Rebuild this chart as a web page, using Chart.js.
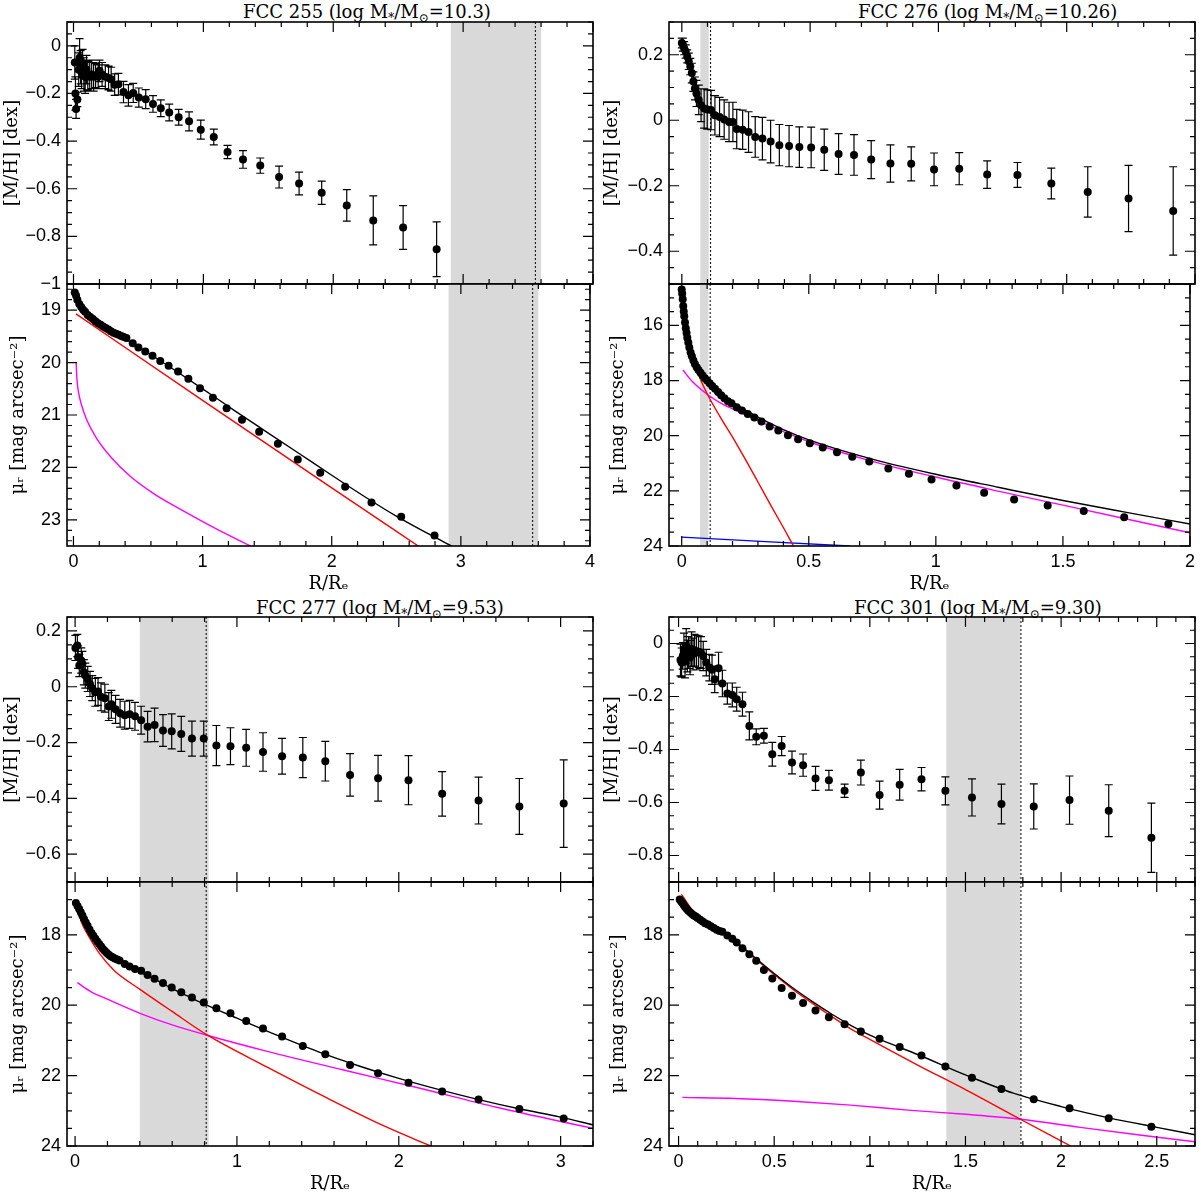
<!DOCTYPE html>
<html lang="en">
  <head>
    <meta charset="UTF-8" />
    <title>FCC metallicity and surface brightness profiles</title>
    <style>
      * {
        box-sizing: border-box;
      }
      html,
      body {
        margin: 0;
        padding: 0;
        background: #fff;
      }
      body {
        position: relative;
        width: 1200px;
        height: 1198px;
        overflow: hidden;
      }
      canvas {
        position: absolute;
      }
      .ttl {
        position: absolute;
        font-family: "DejaVu Serif", "Liberation Serif", serif;
        font-size: 18px;
        line-height: 20px;
        color: #000;
        white-space: nowrap;
      }
      .ttl sub {
        font-size: 12px;
        vertical-align: -4px;
        line-height: 0;
      }
    </style>
  </head>
  <body>
    <div class="ttl" style="left: 243px; top: 2px">FCC 255 (log M<sub>*</sub>/M<sub>⊙</sub>=10.3)</div>
    <div class="ttl" style="left: 858px; top: 2px">FCC 276 (log M<sub>*</sub>/M<sub>⊙</sub>=10.26)</div>
    <div class="ttl" style="left: 256px; top: 598px">FCC 277 (log M<sub>*</sub>/M<sub>⊙</sub>=9.53)</div>
    <div class="ttl" style="left: 854px; top: 598px">FCC 301 (log M<sub>*</sub>/M<sub>⊙</sub>=9.30)</div>

    <script src="https://cdn.jsdelivr.net/npm/chart.js"></script>
    <script>
      // ---------- FCC 255 ----------
      const fcc255Band = [2.905, 3.6];
      const fcc255Cut = 3.556;
      const fcc255MhR = [0.01, 0.015, 0.02, 0.03, 0.04, 0.047, 0.055, 0.062, 0.07, 0.08, 0.09, 0.1, 0.11, 0.125, 0.14, 0.155, 0.17, 0.19, 0.2, 0.22, 0.245, 0.27, 0.29,
        0.317, 0.346, 0.385, 0.423, 0.46, 0.503, 0.556, 0.612, 0.672, 0.737, 0.81, 0.89, 0.98, 1.08, 1.186, 1.305, 1.438, 1.583, 1.737, 1.911, 2.104, 2.308, 2.538, 2.796];
      const fcc255Mh = [-0.07, -0.2, -0.265, -0.225, -0.1, -0.05, -0.09, -0.11, -0.075, -0.12, -0.13, -0.1, -0.125, -0.13, -0.12, -0.13, -0.125, -0.13, -0.105, -0.12, -0.13, -0.135, -0.14,
        -0.163, -0.161, -0.194, -0.208, -0.198, -0.217, -0.224, -0.244, -0.262, -0.28, -0.3, -0.317, -0.352, -0.383, -0.446, -0.477, -0.503, -0.551, -0.578, -0.617, -0.67, -0.733, -0.763, -0.854];
      const fcc255MhErr = [0.07, 0.07, 0.04, 0.03, 0.07, 0.08, 0.07, 0.07, 0.06, 0.07, 0.07, 0.06, 0.06, 0.06, 0.06, 0.06, 0.05, 0.05, 0.045, 0.05, 0.05, 0.05, 0.05,
        0.045, 0.045, 0.045, 0.045, 0.04, 0.04, 0.04, 0.035, 0.035, 0.035, 0.033, 0.04, 0.04, 0.033, 0.028, 0.037, 0.032, 0.046, 0.048, 0.049, 0.066, 0.103, 0.092, 0.115];
      const fcc255MuR = [0.01, 0.02, 0.03, 0.045, 0.06, 0.075, 0.09, 0.11, 0.13, 0.15, 0.17, 0.19, 0.21, 0.23, 0.25, 0.27, 0.29, 0.31, 0.33, 0.35, 0.37, 0.39, 0.41,
        0.459, 0.503, 0.556, 0.612, 0.672, 0.737, 0.81, 0.89, 0.98, 1.08, 1.186, 1.305, 1.438, 1.583, 1.737, 1.911, 2.104, 2.308, 2.538, 2.796];
      const fcc255Mu = [18.66, 18.72, 18.8, 18.88, 18.94, 18.99, 19.03, 19.09, 19.13, 19.17, 19.21, 19.25, 19.28, 19.31, 19.34, 19.37, 19.4, 19.43, 19.45, 19.47, 19.49, 19.51, 19.53,
        19.63, 19.71, 19.79, 19.87, 19.97, 20.06, 20.17, 20.31, 20.49, 20.67, 20.87, 21.09, 21.32, 21.55, 21.85, 22.1, 22.37, 22.67, 22.94, 23.3];
      const fcc255Total = [[0.01, 18.62], [0.05, 18.85], [0.1, 19.0], [0.2, 19.22], [0.3, 19.4], [0.45, 19.62], [0.6, 19.85], [0.8, 20.17], [1.0, 20.5], [1.25, 20.92],
        [1.5, 21.33], [1.75, 21.74], [2.0, 22.15], [2.25, 22.55], [2.5, 22.93], [2.75, 23.27], [2.93, 23.5]];
      const fcc255Red = [[0.02, 19.07], [1.0, 20.72], [2.0, 22.39], [2.67, 23.5]];
      const fcc255Magenta = [[0.021, 20.0], [0.024, 20.2], [0.03, 20.4], [0.04, 20.58], [0.059, 20.78], [0.104, 21.1], [0.178, 21.44], [0.296, 21.82], [0.444, 22.18],
        [0.621, 22.5], [0.858, 22.84], [1.095, 23.16], [1.37, 23.5]];

      // ---------- FCC 276 ----------
      const fcc276Band = [0.072, 0.105];
      const fcc276Cut = 0.112;
      const fcc276MhR = [0, 0.004, 0.009, 0.015, 0.021, 0.027, 0.033, 0.039, 0.045, 0.051, 0.057, 0.066, 0.075, 0.087, 0.099, 0.114, 0.129, 0.147, 0.165, 0.184, 0.199,
        0.214, 0.237, 0.26, 0.286, 0.314, 0.346, 0.38, 0.418, 0.458, 0.504, 0.555, 0.611, 0.671, 0.738, 0.813, 0.894, 0.983, 1.081, 1.19, 1.308, 1.44, 1.582, 1.741, 1.915];
      const fcc276Mh = [0.236, 0.231, 0.22, 0.21, 0.195, 0.18, 0.164, 0.144, 0.118, 0.097, 0.082, 0.062, 0.046, 0.036, 0.033, 0.031, 0.015, 0.01, 0.002, -0.005, -0.005,
        -0.027, -0.029, -0.036, -0.051, -0.056, -0.065, -0.076, -0.079, -0.082, -0.083, -0.09, -0.103, -0.106, -0.12, -0.132, -0.133, -0.15, -0.148, -0.166, -0.167, -0.193, -0.219, -0.239, -0.277];
      const fcc276MhErr = [0.015, 0.02, 0.02, 0.02, 0.02, 0.025, 0.025, 0.03, 0.03, 0.035, 0.04, 0.045, 0.05, 0.06, 0.06, 0.06, 0.06, 0.06, 0.06, 0.06, 0.06,
        0.06, 0.06, 0.062, 0.062, 0.065, 0.065, 0.063, 0.063, 0.062, 0.062, 0.063, 0.062, 0.062, 0.058, 0.057, 0.052, 0.05, 0.049, 0.042, 0.038, 0.047, 0.077, 0.101, 0.135];
      const fcc276MuR = [0, 0.002, 0.004, 0.006, 0.008, 0.01, 0.013, 0.016, 0.019, 0.022, 0.026, 0.03, 0.035, 0.04, 0.046, 0.052, 0.059, 0.066, 0.074, 0.082, 0.091,
        0.1, 0.11, 0.12, 0.131, 0.143, 0.155, 0.168, 0.182,
        0.196, 0.216, 0.237, 0.26, 0.286, 0.314, 0.346, 0.38, 0.418, 0.458, 0.504, 0.555, 0.611, 0.671, 0.738, 0.813, 0.894, 0.983, 1.081, 1.19, 1.308, 1.44, 1.582, 1.741, 1.915];
      const fcc276Mu = [14.7, 14.85, 15.05, 15.3, 15.5, 15.67, 15.9, 16.1, 16.28, 16.45, 16.62, 16.8, 16.98, 17.12, 17.27, 17.4, 17.52, 17.62, 17.72, 17.82, 17.92,
        18.0, 18.1, 18.2, 18.3, 18.42, 18.53, 18.64, 18.75,
        18.82, 18.97, 19.09, 19.21, 19.34, 19.49, 19.67, 19.81, 19.98, 20.13, 20.27, 20.43, 20.6, 20.76, 20.94, 21.19, 21.38, 21.59, 21.81, 22.07, 22.31, 22.53, 22.73, 22.96, 23.2];
      const fcc276Total = [[0, 14.7], [0.005, 15.2], [0.01, 15.65], [0.02, 16.35], [0.03, 16.8], [0.05, 17.3], [0.075, 17.7], [0.1, 18.0], [0.15, 18.45], [0.2, 18.78],
        [0.3, 19.33], [0.4, 19.78], [0.5, 20.15], [0.75, 20.85], [1.0, 21.4], [1.25, 21.88], [1.5, 22.35], [1.75, 22.78], [2.0, 23.2]];
      const fcc276Red = [[0, 14.68], [0.01, 15.66], [0.025, 16.62], [0.05, 17.36], [0.075, 17.98], [0.1, 18.48], [0.15, 19.3], [0.2, 20.05], [0.25, 20.85],
        [0.3, 21.68], [0.35, 22.52], [0.4, 23.33], [0.44, 24.0]];
      const fcc276Magenta = [[0.005, 17.62], [0.04, 18.02], [0.1, 18.5], [0.15, 18.8], [0.2, 19.03], [0.3, 19.45], [0.4, 19.85], [0.5, 20.22], [0.75, 20.93],
        [1.0, 21.5], [1.25, 22.02], [1.5, 22.52], [1.75, 23.02], [2.0, 23.52]];
      const fcc276Blue = [[0, 23.68], [0.66, 24.0]];

      // ---------- FCC 277 ----------
      const fcc277Band = [0.4, 0.825];
      const fcc277Cut = 0.81;
      const fcc277MhR = [0.002, 0.014, 0.019, 0.026, 0.038, 0.045, 0.054, 0.063, 0.078, 0.092, 0.106, 0.125, 0.142, 0.16, 0.184, 0.208, 0.224,
        0.25, 0.278, 0.307, 0.337, 0.37, 0.408, 0.448, 0.491, 0.543, 0.597, 0.656, 0.722, 0.795, 0.873, 0.96, 1.057, 1.161, 1.279, 1.407, 1.546, 1.699, 1.872, 2.06, 2.268, 2.493, 2.745, 3.019];
      const fcc277Mh = [0.139, 0.148, 0.106, 0.076, 0.094, 0.082, 0.052, 0.04, 0.028, 0.01, -0.005, -0.02, -0.017, -0.036, -0.041, -0.071, -0.063,
        -0.081, -0.095, -0.102, -0.099, -0.106, -0.12, -0.143, -0.137, -0.157, -0.16, -0.169, -0.186, -0.186, -0.211, -0.213, -0.219, -0.234, -0.249, -0.254, -0.267, -0.316, -0.328, -0.335, -0.384, -0.408, -0.429, -0.419];
      const fcc277MhErr = [0.045, 0.04, 0.04, 0.04, 0.045, 0.045, 0.045, 0.045, 0.045, 0.045, 0.045, 0.05, 0.05, 0.05, 0.05, 0.05, 0.05,
        0.05, 0.05, 0.05, 0.05, 0.05, 0.05, 0.055, 0.06, 0.057, 0.063, 0.063, 0.063, 0.063, 0.072, 0.066, 0.066, 0.069, 0.064, 0.072, 0.071, 0.076, 0.082, 0.088, 0.08, 0.084, 0.1, 0.157];
      const fcc277MuR = [0.005, 0.015, 0.025, 0.035, 0.045, 0.055, 0.066, 0.077, 0.089, 0.101, 0.113, 0.125, 0.137, 0.149, 0.161, 0.172, 0.184, 0.196, 0.208, 0.22, 0.232, 0.245, 0.26, 0.275,
        0.307, 0.337, 0.37, 0.408, 0.448, 0.491, 0.543, 0.597, 0.656, 0.722, 0.795, 0.873, 0.96, 1.057, 1.161, 1.279, 1.407, 1.546, 1.699, 1.872, 2.06, 2.268, 2.493, 2.745, 3.019];
      const fcc277Mu = [17.1, 17.18, 17.27, 17.36, 17.45, 17.55, 17.65, 17.74, 17.85, 17.95, 18.03, 18.11, 18.19, 18.26, 18.33, 18.4, 18.46, 18.52, 18.57, 18.61, 18.64, 18.67, 18.7, 18.73,
        18.83, 18.9, 18.97, 19.02, 19.14, 19.25, 19.37, 19.5, 19.63, 19.78, 19.92, 20.09, 20.23, 20.45, 20.66, 20.89, 21.16, 21.39, 21.7, 21.93, 22.2, 22.45, 22.68, 22.95, 23.22];
      const fcc277Total = [[0.005, 17.15], [0.05, 17.55], [0.1, 17.95], [0.2, 18.5], [0.3, 18.82], [0.4, 19.06], [0.5, 19.28], [0.6, 19.53], [0.7, 19.75], [0.8, 19.97],
        [1.0, 20.37], [1.25, 20.86], [1.5, 21.32], [1.75, 21.72], [2.0, 22.08], [2.25, 22.4], [2.5, 22.69], [2.75, 22.95], [3.0, 23.18], [3.2, 23.4]];
      const fcc277Red = [[0.007, 17.19], [0.042, 17.67], [0.09, 18.09], [0.149, 18.52], [0.243, 19.02], [0.401, 19.55], [0.597, 20.17], [0.821, 20.86],
        [1.187, 21.76], [1.541, 22.6], [1.895, 23.4], [2.197, 24.0]];
      const fcc277Magenta = [[0.014, 19.36], [0.1, 19.62], [0.2, 19.83], [0.401, 20.23], [0.6, 20.56], [0.821, 20.86], [1.187, 21.31], [1.659, 21.84],
        [2.131, 22.36], [2.603, 22.9], [3.2, 23.5]];

      // ---------- FCC 301 ----------
      const fcc301Band = [1.4, 1.787];
      const fcc301Cut = 1.79;
      const fcc301MhR = [0.01, 0.016, 0.022, 0.028, 0.034, 0.04, 0.046, 0.052, 0.06, 0.068, 0.076, 0.084, 0.094, 0.105, 0.117, 0.129, 0.145, 0.161, 0.175, 0.189,
        0.209, 0.229, 0.255, 0.281, 0.304, 0.334, 0.37, 0.406, 0.446, 0.49, 0.539, 0.593, 0.651, 0.716, 0.786, 0.868, 0.953, 1.051, 1.156, 1.27,
        1.395, 1.534, 1.688, 1.857, 2.044, 2.249, 2.472];
      const fcc301Mh = [-0.062, -0.072, -0.047, -0.021, -0.065, -0.009, -0.047, -0.034, -0.053, -0.021, -0.04, -0.025, -0.034, -0.031, -0.034, -0.047, -0.072, -0.091, -0.099, -0.135,
        -0.093, -0.151, -0.189, -0.194, -0.21, -0.229, -0.311, -0.352, -0.348, -0.418, -0.387, -0.449, -0.459, -0.509, -0.516, -0.556, -0.487, -0.572, -0.533, -0.512,
        -0.556, -0.581, -0.606, -0.615, -0.591, -0.631, -0.733];
      const fcc301MhErr = [0.06, 0.055, 0.05, 0.06, 0.065, 0.065, 0.06, 0.06, 0.065, 0.065, 0.06, 0.06, 0.065, 0.06, 0.06, 0.055, 0.05, 0.05, 0.055, 0.05,
        0.06, 0.05, 0.04, 0.045, 0.045, 0.045, 0.053, 0.03, 0.028, 0.045, 0.036, 0.043, 0.042, 0.045, 0.037, 0.025, 0.047, 0.053, 0.058, 0.044,
        0.053, 0.07, 0.075, 0.085, 0.091, 0.098, 0.131];
      const fcc301MuR = [0.006, 0.013, 0.02, 0.027, 0.034, 0.042, 0.05, 0.06, 0.07, 0.08, 0.09, 0.1, 0.113, 0.126, 0.139, 0.154, 0.169, 0.184, 0.199, 0.214,
        0.229, 0.255, 0.281, 0.304, 0.334, 0.37, 0.406, 0.446, 0.49, 0.539, 0.593, 0.651, 0.716, 0.786, 0.868, 0.953, 1.051, 1.156, 1.27, 1.395, 1.534, 1.688, 1.857, 2.044, 2.249, 2.472];
      const fcc301Mu = [17.0, 17.05, 17.1, 17.15, 17.21, 17.26, 17.31, 17.36, 17.41, 17.45, 17.48, 17.52, 17.57, 17.62, 17.67, 17.71, 17.76, 17.81, 17.86, 17.89,
        17.91, 18.02, 18.11, 18.22, 18.38, 18.55, 18.74, 19.0, 19.24, 19.51, 19.73, 19.94, 20.15, 20.34, 20.54, 20.75, 20.95, 21.19, 21.43, 21.74, 22.06, 22.38, 22.67, 22.93, 23.21, 23.45];
      const fcc301Total = [[0.01, 16.95], [0.1, 17.5], [0.2, 17.85], [0.3, 18.2], [0.4, 18.65], [0.5, 19.1], [0.6, 19.52], [0.7, 19.9], [0.8, 20.25], [0.9, 20.57],
        [1.0, 20.85], [1.1, 21.08], [1.25, 21.4], [1.5, 21.98], [1.75, 22.5], [2.0, 22.88], [2.25, 23.2], [2.5, 23.47], [2.7, 23.68]];
      const fcc301Red = [[0.015, 16.85], [0.1, 17.5], [0.2, 17.86], [0.3, 18.22], [0.4, 18.68], [0.5, 19.13], [0.6, 19.56], [0.7, 19.95], [0.8, 20.32], [0.9, 20.67],
        [1.0, 20.97], [1.25, 21.7], [1.5, 22.4], [1.787, 23.24], [2.05, 24.0]];
      const fcc301Magenta = [[0.02, 22.62], [0.3, 22.65], [0.6, 22.73], [0.9, 22.84], [1.2, 22.98], [1.5, 23.1], [1.787, 23.24], [2.1, 23.47], [2.4, 23.68], [2.7, 23.88]];

      // ---------- layout ----------
      const COLS = [
        { x: 0, left: 67, right: 593 },
        { x: 600, left: 669, right: 1195 },
      ];
      const ROWS = [
        { top: 22, mid: 284, bottom: 546 },
        { top: 617, mid: 882, bottom: 1146 },
      ];
      const RED = "#ff0000";
      const MAGENTA = "#ff00ff";
      const BLUE = "#0000ff";

      const panels = [
        {
          col: 0, row: 0, xMin: -0.05, xMax: 4, xTicks: [0, 1, 2, 3, 4], xMajor: 1, xMinor: 0.2,
          band: fcc255Band, cut: fcc255Cut,
          mh: { min: -1, max: 0.1, ticks: [0, -0.2, -0.4, -0.6, -0.8, -1], major: 0.2, minor: 0.05, r: fcc255MhR, v: fcc255Mh, e: fcc255MhErr },
          mu: { min: 18.5, max: 23.5, ticks: [19, 20, 21, 22, 23], major: 1, minor: 0.2, r: fcc255MuR, v: fcc255Mu,
            curves: [[fcc255Total, "#000"], [fcc255Red, RED], [fcc255Magenta, MAGENTA]] },
        },
        {
          col: 1, row: 0, xMin: -0.05, xMax: 2, xTicks: [0, 0.5, 1, 1.5, 2], xMajor: 0.5, xMinor: 0.1,
          band: fcc276Band, cut: fcc276Cut,
          mh: { min: -0.5, max: 0.3, ticks: [0.2, 0, -0.2, -0.4], major: 0.2, minor: 0.05, r: fcc276MhR, v: fcc276Mh, e: fcc276MhErr },
          mu: { min: 14.5, max: 24, ticks: [16, 18, 20, 22, 24], major: 2, minor: 0.5, r: fcc276MuR, v: fcc276Mu,
            curves: [[fcc276Total, "#000"], [fcc276Red, RED], [fcc276Magenta, MAGENTA], [fcc276Blue, BLUE]] },
        },
        {
          col: 0, row: 1, xMin: -0.05, xMax: 3.2, xTicks: [0, 1, 2, 3], xMajor: 1, xMinor: 0.2,
          band: fcc277Band, cut: fcc277Cut,
          mh: { min: -0.7, max: 0.25, ticks: [0.2, 0, -0.2, -0.4, -0.6], major: 0.2, minor: 0.05, r: fcc277MhR, v: fcc277Mh, e: fcc277MhErr },
          mu: { min: 16.5, max: 24, ticks: [18, 20, 22, 24], major: 2, minor: 0.5, r: fcc277MuR, v: fcc277Mu,
            curves: [[fcc277Total, "#000"], [fcc277Red, RED], [fcc277Magenta, MAGENTA]] },
        },
        {
          col: 1, row: 1, xMin: -0.05, xMax: 2.7, xTicks: [0, 0.5, 1, 1.5, 2, 2.5], xMajor: 0.5, xMinor: 0.1,
          band: fcc301Band, cut: fcc301Cut,
          mh: { min: -0.9, max: 0.1, ticks: [0, -0.2, -0.4, -0.6, -0.8], major: 0.2, minor: 0.05, r: fcc301MhR, v: fcc301Mh, e: fcc301MhErr },
          mu: { min: 16.5, max: 24, ticks: [18, 20, 22, 24], major: 2, minor: 0.5, r: fcc301MuR, v: fcc301Mu,
            curves: [[fcc301Total, "#000"], [fcc301Red, RED], [fcc301Magenta, MAGENTA]] },
        },
      ];

      const TICK_FONT = { family: "'Liberation Sans', Arial, sans-serif", size: 18 };
      const TITLE_FONT = { family: "'DejaVu Serif', 'Liberation Serif', serif", size: 18 };
      const PAD = 20;
      const XAXIS_H = 55;

      const fmt = (v) => String(Math.round(v * 100) / 100).replace("-", "\u2212");

      function steps(min, max, step) {
        const out = [];
        const k0 = Math.ceil(min / step - 1e-6);
        const k1 = Math.floor(max / step + 1e-6);
        for (let k = k0; k <= k1; k++) out.push(k * step);
        return out;
      }
      function onMajor(v, major) {
        const q = v / major;
        return Math.abs(q - Math.round(q)) < 1e-6;
      }

      // shaded range, dotted cut, error bars, frame and inward ticks
      const decor = {
        id: "decor",
        beforeDatasetsDraw(chart, args, o) {
          const { ctx, chartArea: a } = chart;
          const x = chart.scales.x, y = chart.scales.y;
          ctx.save();
          const x1 = x.getPixelForValue(o.band[0]);
          const x2 = x.getPixelForValue(o.band[1]);
          ctx.fillStyle = "#d9d9d9";
          ctx.fillRect(x1, a.top, x2 - x1, a.bottom - a.top);

          const xc = x.getPixelForValue(o.cut);
          ctx.strokeStyle = "#000";
          ctx.lineWidth = 1;
          ctx.setLineDash([2, 2]);
          ctx.beginPath();
          ctx.moveTo(xc, a.top);
          ctx.lineTo(xc, a.bottom);
          ctx.stroke();
          ctx.setLineDash([]);

          ctx.beginPath();
          ctx.rect(a.left, a.top, a.right - a.left, a.bottom - a.top);
          ctx.clip();
          ctx.lineWidth = 1.2;
          ctx.beginPath();
          chart.data.datasets.forEach((ds) => {
            if (!ds.errors) return;
            ds.data.forEach((p, i) => {
              const px = x.getPixelForValue(p.x);
              const yt = y.getPixelForValue(p.y + ds.errors[i]);
              const yb = y.getPixelForValue(p.y - ds.errors[i]);
              ctx.moveTo(px, yt);
              ctx.lineTo(px, yb);
              ctx.moveTo(px - 4, yt);
              ctx.lineTo(px + 4, yt);
              ctx.moveTo(px - 4, yb);
              ctx.lineTo(px + 4, yb);
            });
          });
          ctx.stroke();
          ctx.restore();
        },
        afterDatasetsDraw(chart, args, o) {
          const { ctx, chartArea: a } = chart;
          const x = chart.scales.x, y = chart.scales.y;
          ctx.save();
          ctx.strokeStyle = "#000";
          ctx.lineWidth = 1.2;
          ctx.beginPath();
          steps(x.min, x.max, o.xMinor).forEach((v) => {
            const len = onMajor(v, o.xMajor) ? 10 : 5;
            const px = x.getPixelForValue(v);
            ctx.moveTo(px, a.top);
            ctx.lineTo(px, a.top + len);
            ctx.moveTo(px, a.bottom);
            ctx.lineTo(px, a.bottom - len);
          });
          steps(y.min, y.max, o.yMinor).forEach((v) => {
            const len = onMajor(v, o.yMajor) ? 10 : 5;
            const py = y.getPixelForValue(v);
            ctx.moveTo(a.left, py);
            ctx.lineTo(a.left + len, py);
            ctx.moveTo(a.right, py);
            ctx.lineTo(a.right - len, py);
          });
          ctx.stroke();
          ctx.lineWidth = 1.6;
          ctx.strokeRect(a.left, a.top, a.right - a.left, a.bottom - a.top);
          ctx.restore();
        },
      };

      function makeCanvas(left, top, w, h) {
        const c = document.createElement("canvas");
        c.width = w;
        c.height = h;
        c.style.left = left + "px";
        c.style.top = top + "px";
        c.style.width = w + "px";
        c.style.height = h + "px";
        document.body.appendChild(c);
        return c;
      }

      function pointSet(r, v, e) {
        return {
          data: r.map((rr, i) => ({ x: rr, y: v[i] })),
          errors: e,
          showLine: false,
          pointRadius: 4,
          pointHoverRadius: 4,
          pointBackgroundColor: "#000",
          pointBorderWidth: 0,
        };
      }

      function curveSet(pts, color) {
        return {
          data: pts.map((p) => ({ x: p[0], y: p[1] })),
          showLine: true,
          borderColor: color,
          borderWidth: 1.4,
          pointRadius: 0,
          cubicInterpolationMode: "monotone",
        };
      }

      function makeSub(p, sub, isBottom) {
        const col = COLS[p.col], row = ROWS[p.row];
        const top = isBottom ? row.mid : row.top;
        const bot = isBottom ? row.bottom : row.mid;
        const h = bot - top + PAD + (isBottom ? XAXIS_H : PAD);
        const canvas = makeCanvas(col.x, top - PAD, 600, h);
        const datasets = [pointSet(sub.r, sub.v, isBottom ? null : sub.e)];
        if (isBottom) sub.curves.forEach((c) => datasets.push(curveSet(c[0], c[1])));

        new Chart(canvas, {
          type: "scatter",
          data: { datasets },
          options: {
            responsive: false,
            animation: false,
            devicePixelRatio: 1,
            events: [],
            layout: { padding: { left: 0, top: PAD, right: col.x + 600 - col.right, bottom: isBottom ? 0 : PAD } },
            plugins: {
              legend: { display: false },
              tooltip: { enabled: false },
              decor: {
                band: p.band, cut: p.cut,
                xMajor: p.xMajor, xMinor: p.xMinor,
                yMajor: sub.major, yMinor: sub.minor,
              },
            },
            scales: {
              x: {
                type: "linear",
                min: p.xMin,
                max: p.xMax,
                display: isBottom,
                grid: { display: false, drawTicks: false },
                border: { display: false },
                afterBuildTicks: (s) => { s.ticks = p.xTicks.map((v) => ({ value: v })); },
                afterFit: (s) => { if (isBottom) s.height = XAXIS_H; },
                ticks: { autoSkip: false, maxRotation: 0, padding: 5, color: "#000", font: TICK_FONT, callback: fmt },
                title: { display: true, text: "R/R\u2091", color: "#000", font: TITLE_FONT, padding: { top: 0, bottom: 6 } },
              },
              y: {
                type: "linear",
                min: sub.min,
                max: sub.max,
                reverse: isBottom,
                grid: { display: false, drawTicks: false },
                border: { display: false },
                afterBuildTicks: (s) => { s.ticks = sub.ticks.map((v) => ({ value: v })); },
                afterFit: (s) => { s.width = col.left - col.x; },
                ticks: { autoSkip: false, padding: 6, color: "#000", font: TICK_FONT, callback: fmt },
                title: {
                  display: true,
                  text: isBottom ? "\u03bc\u1d63 [mag arcsec\u207b\u00b2]" : "[M/H] [dex]",
                  color: "#000",
                  font: TITLE_FONT,
                  padding: { top: isBottom ? 8 : 2, bottom: 0 },
                },
              },
            },
          },
          plugins: [decor],
        });
      }

      panels.forEach((p) => {
        makeSub(p, p.mh, false);
        makeSub(p, p.mu, true);
      });
    </script>
  </body>
</html>
